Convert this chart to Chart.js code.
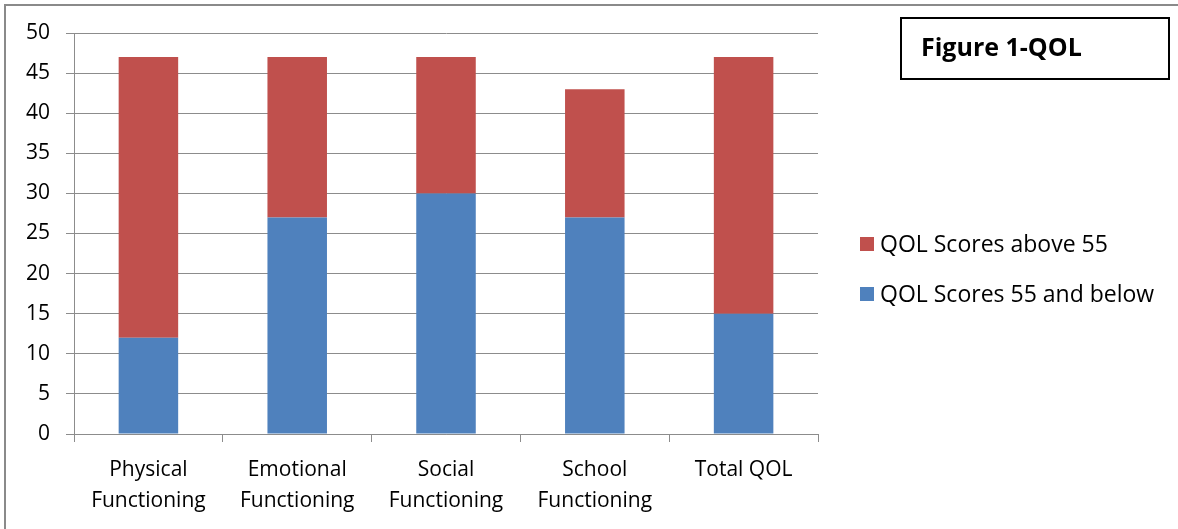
<!DOCTYPE html>
<html>
<head>
<meta charset="utf-8">
<script src="https://cdn.jsdelivr.net/npm/chart.js@4/dist/chart.umd.min.js"></script>
<style>
  html, body { margin: 0; padding: 0; background: #fff; }
  #wrap { width: 1178px; height: 529px; position: relative; }
</style>
</head>
<body>
<div id="wrap"><canvas id="chart"></canvas></div>
<script>
// categories and values
const categories = [
    ['Physical', 'Functioning'],
    ['Emotional', 'Functioning'],
    ['Social', 'Functioning'],
    ['School', 'Functioning'],
    'Total QOL'
];
const below55 = [12, 27, 30, 27, 15];
const above55 = [35, 20, 17, 16, 32];
const yTicks = [0, 5, 10, 15, 20, 25, 30, 35, 40, 45, 50];

const FONT = "'Open Sans', 'Noto Sans', sans-serif";
const gridColor = '#8c8c8c';

// frame, title box and legend drawn on top
const extras = {
    id: 'extras',
    afterDraw(chart) {
        const ctx = chart.ctx;
        ctx.save();
        // outer frame (only top and left visible)
        ctx.strokeStyle = '#8a8a8a';
        ctx.lineWidth = 2;
        ctx.beginPath();
        ctx.moveTo(5, 529);
        ctx.lineTo(5, 5);
        ctx.lineTo(1178, 5);
        ctx.stroke();

        // title box
        ctx.strokeStyle = '#000';
        ctx.lineWidth = 2;
        ctx.strokeRect(901, 18, 268, 61);
        ctx.fillStyle = '#000';
        ctx.font = "bold 25px " + FONT;
        ctx.textBaseline = 'middle';
        ctx.fillText('Figure 1-QOL', 921, 49);

        // legend, top series first
        const items = chart.data.datasets.slice().reverse();
        ctx.font = "23px " + FONT;
        items.forEach((ds, i) => {
            const y = 244 + i * 50;
            ctx.fillStyle = ds.backgroundColor;
            ctx.fillRect(860, y - 7, 14, 14);
            ctx.fillStyle = '#000';
            ctx.fillText(ds.label, 880, y + 1);
        });
        ctx.restore();
    }
};

new Chart(document.getElementById('chart'), {
    type: 'bar',
    data: {
        labels: categories,
        datasets: [
            {
                label: 'QOL Scores 55 and below',
                data: below55,
                backgroundColor: '#4f81bd',
                categoryPercentage: 1,
                barPercentage: 0.4
            },
            {
                label: 'QOL Scores above 55',
                data: above55,
                backgroundColor: '#c0504d',
                categoryPercentage: 1,
                barPercentage: 0.4
            }
        ]
    },
    options: {
        responsive: true,
        maintainAspectRatio: false,
        animation: false,
        layout: { padding: { left: 10, top: 33, right: 360, bottom: 0 } },
        plugins: {
            legend: { display: false },
            tooltip: { enabled: false }
        },
        scales: {
            x: {
                stacked: true,
                offset: true,
                grid: {
                    offset: true,
                    drawOnChartArea: false,
                    drawTicks: true,
                    tickLength: 8,
                    color: gridColor
                },
                border: { color: gridColor, width: 1 },
                ticks: {
                    color: '#000',
                    font: { family: FONT, size: 21, lineHeight: 1.5 },
                    padding: 12,
                    maxRotation: 0,
                    autoSkip: false
                }
            },
            y: {
                stacked: true,
                min: 0,
                max: 50,
                afterBuildTicks(axis) {
                    axis.ticks = yTicks.map(v => ({ value: v }));
                },
                grid: {
                    color: gridColor,
                    tickLength: 8
                },
                border: { color: gridColor, width: 1 },
                ticks: {
                    color: '#000',
                    font: { family: FONT, size: 21 },
                    padding: 16
                }
            }
        }
    },
    plugins: [extras]
});
</script>
</body>
</html>
